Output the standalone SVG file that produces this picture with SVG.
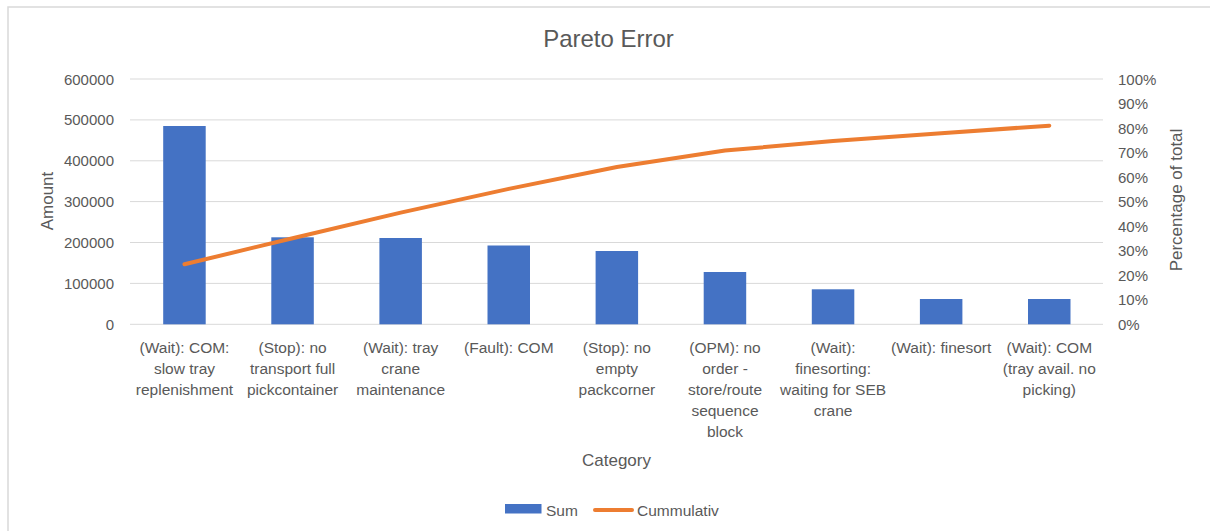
<svg xmlns="http://www.w3.org/2000/svg" width="1210" height="531" viewBox="0 0 1210 531">
<style>
text{font-family:"Liberation Sans",Arial,sans-serif;fill:#595959}
.tick{font-size:15px}
.leg{font-size:15.5px}
.cat{font-size:15.5px;text-anchor:middle}
.ax{font-size:17px;text-anchor:middle}
.grid{stroke:#D9D9D9;stroke-width:1}
.bar{fill:#4472C4}
.cum{fill:none;stroke:#ED7D31;stroke-width:4;stroke-linecap:round;stroke-linejoin:round}
</style>
<rect x="0" y="0" width="1210" height="531" fill="#fff"/>
<rect x="8" y="7" width="1215" height="540" fill="#fff" stroke="#D9D9D9" stroke-width="1.5"/>
<text x="608.5" y="47" font-size="24" text-anchor="middle">Pareto Error</text>
<g id="gridlines">
<line class="grid" x1="130" y1="79" x2="1103" y2="79"/>
<line class="grid" x1="130" y1="119.9" x2="1103" y2="119.9"/>
<line class="grid" x1="130" y1="160.8" x2="1103" y2="160.8"/>
<line class="grid" x1="130" y1="201.6" x2="1103" y2="201.6"/>
<line class="grid" x1="130" y1="242.5" x2="1103" y2="242.5"/>
<line class="grid" x1="130" y1="283.4" x2="1103" y2="283.4"/>
<line class="grid" x1="130" y1="324.3" x2="1103" y2="324.3"/>
</g>
<g id="left-axis" class="tick" text-anchor="end">
<text x="114" y="84.5">600000</text>
<text x="114" y="125.4">500000</text>
<text x="114" y="166.3">400000</text>
<text x="114" y="207.1">300000</text>
<text x="114" y="248">200000</text>
<text x="114" y="288.9">100000</text>
<text x="114" y="329.8">0</text>
</g>
<g id="right-axis" class="tick">
<text x="1118" y="84.5">100%</text>
<text x="1118" y="109">90%</text>
<text x="1118" y="133.5">80%</text>
<text x="1118" y="158.1">70%</text>
<text x="1118" y="182.6">60%</text>
<text x="1118" y="207.1">50%</text>
<text x="1118" y="231.6">40%</text>
<text x="1118" y="256.2">30%</text>
<text x="1118" y="280.7">20%</text>
<text x="1118" y="305.2">10%</text>
<text x="1118" y="329.8">0%</text>
</g>
<text class="ax" transform="translate(52.5,201) rotate(-90)">Amount</text>
<text class="ax" transform="translate(1182,200) rotate(-90)">Percentage of total</text>
<g id="bars">
<rect class="bar" x="163.2" y="126" width="42.5" height="198.3"/>
<rect class="bar" x="271.3" y="237.3" width="42.5" height="87"/>
<rect class="bar" x="379.4" y="238" width="42.5" height="86.3"/>
<rect class="bar" x="487.5" y="245.5" width="42.5" height="78.8"/>
<rect class="bar" x="595.6" y="251" width="42.5" height="73.3"/>
<rect class="bar" x="703.7" y="272" width="42.5" height="52.3"/>
<rect class="bar" x="811.8" y="289.3" width="42.5" height="35"/>
<rect class="bar" x="919.9" y="299" width="42.5" height="25.3"/>
<rect class="bar" x="1028" y="299" width="42.5" height="25.3"/>
</g>
<g id="connectors">
<polyline class="cum" points="184.5,264.3 292.6,238.2 400.7,212.6 508.8,188.9 616.9,167 725,150.6 833.1,141 941.2,133.2 1049.3,125.7"/>
</g>
<g id="categories" class="cat">
<text x="184.5" y="353">(Wait): COM:</text><text x="184.5" y="374">slow tray</text><text x="184.5" y="395">replenishment</text>
<text x="292.6" y="353">(Stop): no</text><text x="292.6" y="374">transport full</text><text x="292.6" y="395">pickcontainer</text>
<text x="400.7" y="353">(Wait): tray</text><text x="400.7" y="374">crane</text><text x="400.7" y="395">maintenance</text>
<text x="508.8" y="353">(Fault): COM</text>
<text x="616.9" y="353">(Stop): no</text><text x="616.9" y="374">empty</text><text x="616.9" y="395">packcorner</text>
<text x="725" y="353">(OPM): no</text><text x="725" y="374">order -</text><text x="725" y="395">store/route</text><text x="725" y="416">sequence</text><text x="725" y="437">block</text>
<text x="833.1" y="353">(Wait):</text><text x="833.1" y="374">finesorting:</text><text x="833.1" y="395">waiting for SEB</text><text x="833.1" y="416">crane</text>
<text x="941.2" y="353">(Wait): finesort</text>
<text x="1049.3" y="353">(Wait): COM</text><text x="1049.3" y="374">(tray avail. no</text><text x="1049.3" y="395">picking)</text>
</g>
<text class="ax" x="616.5" y="466">Category</text>
<g id="legend">
<rect class="bar" x="505" y="504" width="36.5" height="9.5"/>
<text class="leg" x="546" y="516">Sum</text>
<line x1="595" y1="510" x2="632" y2="510" stroke="#ED7D31" stroke-width="4" stroke-linecap="round"/>
<text class="leg" x="637" y="516">Cummulativ</text>
</g>
</svg>
